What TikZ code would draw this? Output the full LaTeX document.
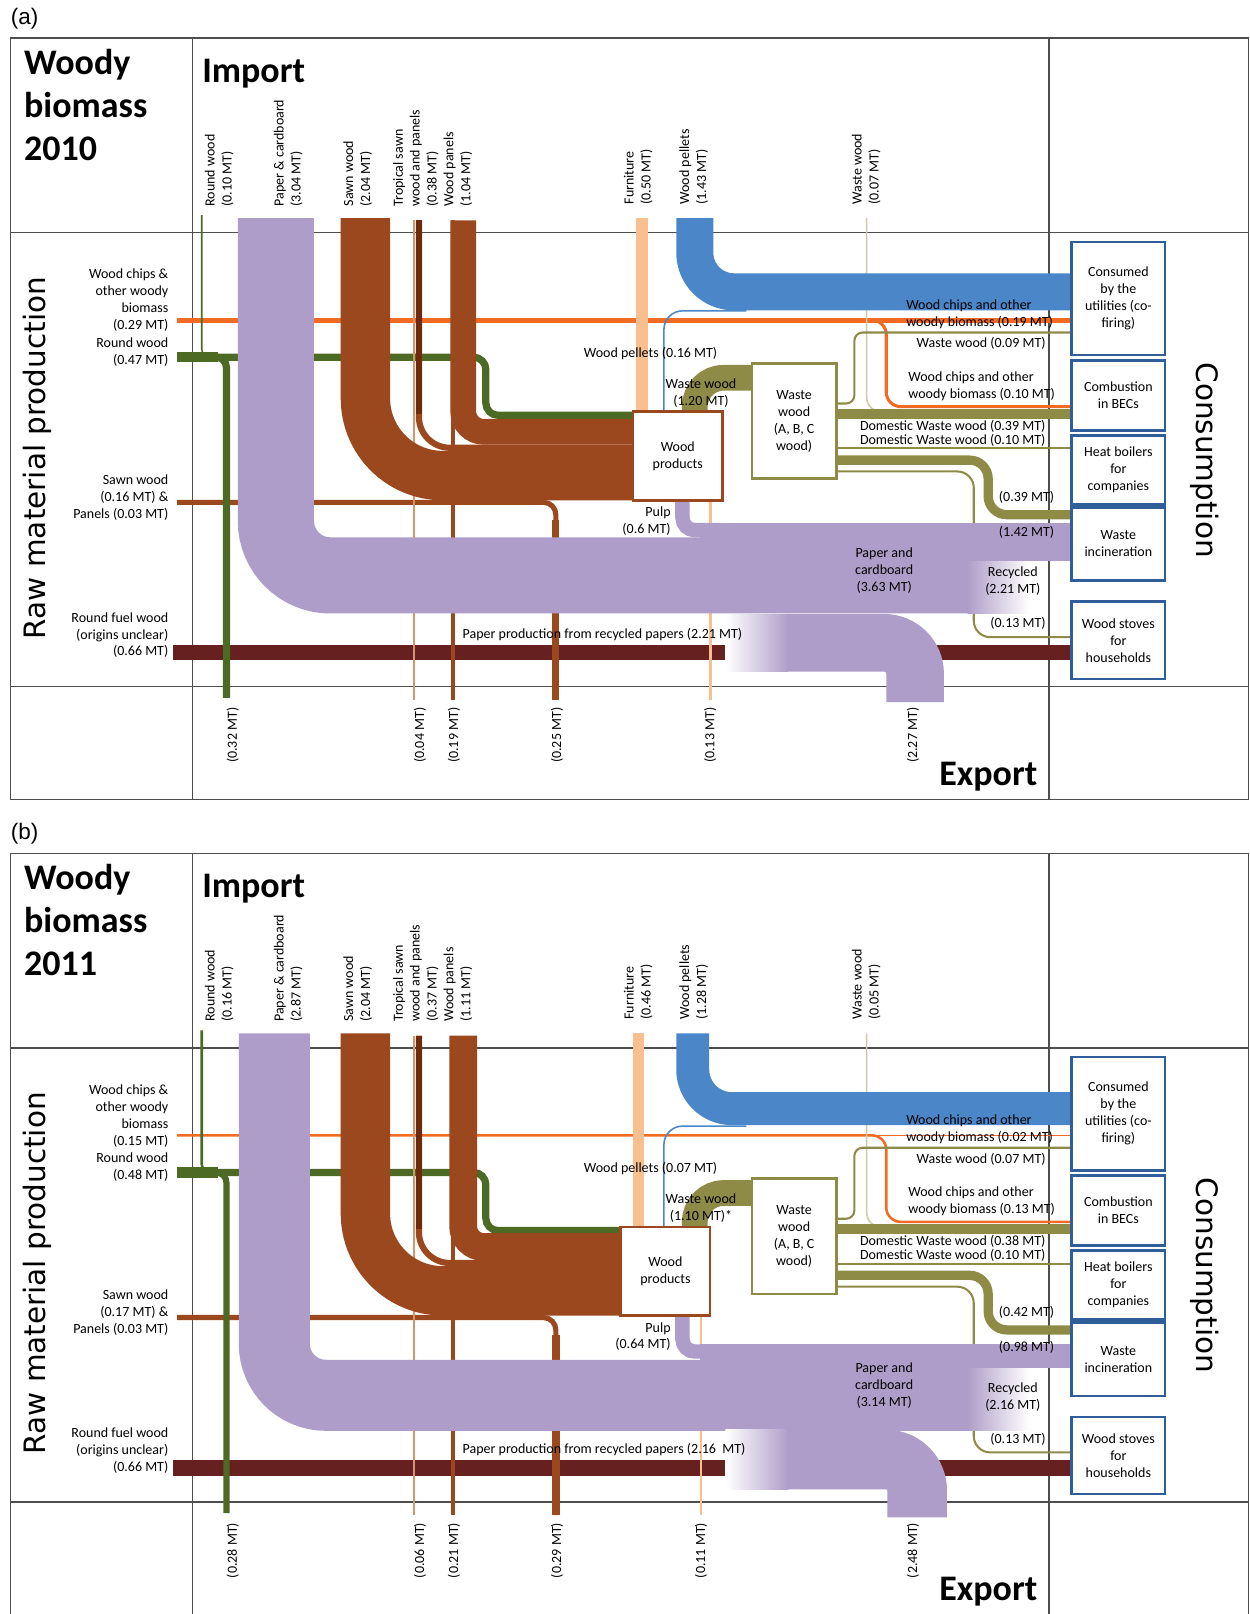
\documentclass[tikz,border=0pt]{standalone}
\usepackage{fontspec}
\setmainfont{Carlito}
\newfontfamily\headfont{DejaVu Sans}
\newfontfamily\tagfont{Liberation Sans}
\usepackage{tikz}

\definecolor{lav}{HTML}{AF9DC9}
\definecolor{brn}{HTML}{9B481F}
\definecolor{darkbrn}{HTML}{6E2A0C}
\definecolor{lightbrn}{HTML}{D4956A}
\definecolor{grn}{HTML}{4C6A23}
\definecolor{orng}{HTML}{F26B22}
\definecolor{blu}{HTML}{4A86C8}
\definecolor{peach}{HTML}{F9BF8F}
\definecolor{maroonbar}{HTML}{66201F}
\definecolor{wwcol}{HTML}{8E8B47}
\definecolor{khaki}{HTML}{CFCBA5}
\definecolor{boxblue}{HTML}{2F5E99}
\definecolor{framegray}{HTML}{4D4D4D}

\tikzset{
  flow/.style={line width=#1*0.412pt},
  rc/.style={rounded corners=#1*0.412pt},
  bw/.style={minimum width=#1*0.412pt},
  bh/.style={minimum height=#1*0.412pt},
  gridline/.style={draw=framegray, line width=0.6pt},
  lbl/.style={font=\fontsize{5.6}{6.8}\selectfont, inner sep=0pt},
  hlbl/.style={lbl, rotate=90, anchor=west, align=left},
  elbl/.style={lbl, rotate=90, anchor=east},
  cbox/.style={draw=boxblue, line width=1pt, fill=white, lbl, align=center, bw=91},
  bigtxt/.style={font=\fontsize{14.4}{17.3}\selectfont\bfseries, inner sep=0pt}
}

\newcommand{\woodypanel}{%
  \draw[gridline] (10,37) rectangle (1213,776.5);
  \draw[gridline] (10,226) -- (1213,226) (10,667) -- (1213,667)
    (187,37) -- (187,776.5) (1019,37) -- (1019,776.5);
  % raw material production
  \draw[maroonbar, flow=15] (168,634) -- (1041,634);
  \draw[orng, flow=\gOc] (172,311) -- (1041,311);
  \draw[orng, flow=\gOb, rc=14] (172,311) -- (861,311) -- (861,395) -- (1041,395);
  \draw[brn, flow=5, rc=12] (172,488) -- (540,488) -- (540,680);
  \draw[brn, flow=\gSe] (540,505) -- (540,680);
  \draw[grn, flow=10] (172,347) -- (212,347);
  \draw[grn, flow=\gGe, rc=10] (205,347) -- (220,347) -- (220,678);
  \draw[grn, flow=7, rc=12] (205,347) -- (472,347) -- (472,403.5) -- (\gWPx,403.5);
  \draw[grn, flow=\gGi, rc=8] (196,209) -- (196,347) -- (212,347);
  % export
  \draw[lightbrn, flow=\gTe] (402,214) -- (402,680);
  \draw[brn, flow=\gPe] (440,214) -- (440,680);
  \draw[peach, flow=2.5] (\gFx,486) -- (\gFx,680);
  % waste wood
  \draw[khaki, flow=1.5, rc=14] (842,212) -- (842,400) -- (880,400);
  \draw[wwcol, flow=2, rc=8] (813,392) -- (830,392) -- (830,323) -- (1041,323);
  \draw[wwcol, flow=10] (813,402) -- (1041,402);
  \draw[wwcol, flow=2] (813,435.5) -- (1041,435.5);
  \draw[wwcol, flow=9, rc=18] (813,447) -- (960,447) -- (960,500) -- (1041,500);
  \draw[wwcol, flow=2, rc=16] (813,458) -- (946,458) -- (946,619) -- (1041,619);
  % import
  \draw[blu, flow=1.5, rc=18] (725,302) -- (645,302) -- (645,400);
  \draw[blu, flow=\gBlw, rc=38] (\gBlx,212) -- (\gBlx,\gBly) -- (1041,\gBly);
  \draw[peach, flow=\gFw] (\gFix,212) -- (\gFix,400);
  \draw[brn, flow=48, rc=75] (355,212) -- (355,462) -- (\gWPx,462);
  \draw[brn, flow=6, rc=30] (407,214) -- (407,435) -- (\gWPx,435);
  \draw[darkbrn, flow=6] (407,214) -- (407,402);
  \draw[brn, flow=\gPw, rc=20] (450,214) -- (450,419.5) -- (\gWPx,419.5);
  % paper and cardboard
  \draw[lav, flow=\gPCw, rc=\gPCr] (\gPCx,212) -- (\gPCx,\gBy) -- (941,\gBy);
  \fill[lav] (680,\gIt) rectangle (1041,\gIb);
  \draw[lav, flow=14, rc=12] (663,486) -- (663,\gPy) -- (700,\gPy);
  \shade[left color=lav, right color=white] (940,\gIb) rectangle (1000,\gBb);
  \shade[left color=white, right color=lav] (705,\gEt) rectangle (766,\gEb);
  \draw[lav, flow=\gEw, rc=30] (765,\gEy) -- (\gEx,\gEy) -- (\gEx,682);
  \draw[wwcol, flow=25, rc=28] (675,400) -- (675,367) -- (731,367);
  % boxes
  \node[draw=brn, line width=1pt, fill=white, lbl, align=center, bw=87, bh=86]
    (wprod) at (\gWPc,443) {Wood\\products};
  \node[draw=wwcol, line width=1pt, fill=white, lbl, align=center, bw=82, bh=112]
    (wwood) at (771.5,409) {Waste\\wood\\(A, B, C\\wood)};
  \node[cbox, bh=110] (util) at (1086.5,290) {Consumed\\by the\\utilities (co-\\firing)};
  \node[cbox, bh=68] (becs) at (1086.5,384) {Combustion\\in BECs};
  \node[cbox, bh=67] (heat) at (1086.5,456.5) {Heat boilers\\for\\companies};
  \node[cbox, bh=71] (incin) at (1086.5,528.5) {Waste\\incineration};
  \node[cbox, bh=75] (stoves) at (1086.5,622) {Wood stoves\\for\\households};
  % headings
  \node[font=\tagfont\fontsize{9}{11}\selectfont, anchor=west, inner sep=0pt] (tag) at (10,18) {\vTag};
  \node[bigtxt, anchor=north west, align=left] (title) at (23,47) {Woody\\biomass\\\vYear};
  \node[bigtxt, anchor=base west] (imp) at (196,80) {Import};
  \node[bigtxt, anchor=base west] (exp) at (912,763) {Export};
  \node[font=\headfont\fontsize{11.8}{14}\selectfont, rotate=90] (raw) at (36,445) {Raw material production};
  \node[font=\headfont\fontsize{11.8}{14}\selectfont, rotate=-90] (cons) at (1170,447) {Consumption};
  % import labels
  \node[hlbl] (hRW) at (213,201) {Round wood\\(\vRWi\ MT)};
  \node[hlbl] (hPC) at (280,201) {Paper \& cardboard\\(\vPCi\ MT)};
  \node[hlbl] (hSW) at (347.5,201) {Sawn wood\\(\vSWi\ MT)};
  \node[hlbl] (hTS) at (404,201) {Tropical sawn\\wood and panels\\(\vTSi\ MT)};
  \node[hlbl] (hWP) at (445,201) {Wood panels\\(\vWPi\ MT)};
  \node[hlbl] (hFU) at (620,199) {Furniture\\(\vFUi\ MT)};
  \node[hlbl] (hPE) at (674,199) {Wood pellets\\(\vPEi\ MT)};
  \node[hlbl] (hWW) at (841.5,199) {Waste wood\\(\vWWi\ MT)};
  % raw material labels
  \node[lbl, anchor=east, align=right] (lWC) at (164,292) {Wood chips \&\\other woody\\biomass\\(\vWCr\ MT)};
  \node[lbl, anchor=east, align=right] (lRW) at (164,342) {Round wood\\(\vRWr\ MT)};
  \node[lbl, anchor=east, align=right] (lSW) at (164,483) {Sawn wood\\(\vSWr\ MT) \&\\Panels (0.03 MT)};
  \node[lbl, anchor=east, align=right] (lFW) at (164,617) {Round fuel wood\\(origins unclear)\\(0.66 MT)};
  % export labels
  \node[elbl] (eRW) at (226,687) {(\vRWe\ MT)};
  \node[elbl] (eTS) at (408,687) {(\vTSe\ MT)};
  \node[elbl] (eWP) at (441,687) {(\vWPe\ MT)};
  \node[elbl] (eSW) at (541,687) {(\vSWe\ MT)};
  \node[elbl] (eFU) at (\gFx,687) {(\vFUe\ MT)};
  \node[elbl] (ePC) at (887,687) {(\vPCe\ MT)};
  % flow labels
  \node[lbl] (mPel) at (632,343) {Wood pellets (\vPel\ MT)};
  \node[lbl, align=center] (mWW) at (681,381.5) {Waste wood\\(\vWWm};
  \node[lbl, anchor=east, align=right] (mPulp) at (652,506.5) {Pulp\\(\vPulp\ MT)};
  \node[lbl, anchor=west, align=left] (cWCu) at (880,305) {Wood chips and other\\woody biomass (\vWCu\ MT)};
  \node[lbl, anchor=west] (cWWu) at (890,334) {Waste wood (\vWWu\ MT)};
  \node[lbl, anchor=west, align=left] (cWCb) at (882,375) {Wood chips and other\\woody biomass (\vWCb\ MT)};
  \node[lbl, anchor=west] (cDWb) at (835,414) {Domestic Waste wood (\vDWb\ MT)};
  \node[lbl, anchor=west] (cDWh) at (835,428) {Domestic Waste wood (0.10 MT)};
  \node[lbl, anchor=west] (cWWi) at (970,483) {(\vWWinc\ MT)};
  \node[lbl, anchor=west] (cPCi) at (970,517) {(\vPCinc\ MT)};
  \node[lbl, align=center] (cPC) at (859,554) {Paper and\\cardboard\\(\vPC\ MT)};
  \node[lbl, align=center] (cRec) at (984,565) {Recycled\\(\vRec\ MT)};
  \node[lbl] (cSt) at (989,606) {(0.13 MT)};
  \node[lbl, anchor=west] (cRecP) at (449,616) {Paper production from recycled papers (\vRecP)};
}

\begin{document}
\begin{tikzpicture}[x=0.412pt, y=-0.412pt]
\path[use as bounding box, fill=white] (0,0) rectangle (1214,1568);

\begin{scope}
  \def\vTag{(a)}\def\vYear{2010}
  \def\vRWi{0.10}\def\vPCi{3.04}\def\vSWi{2.04}\def\vTSi{0.38}\def\vWPi{1.04}
  \def\vFUi{0.50}\def\vPEi{1.43}\def\vWWi{0.07}
  \def\vWCr{0.29}\def\vRWr{0.47}\def\vSWr{0.16}
  \def\vRWe{0.32}\def\vTSe{0.04}\def\vWPe{0.19}\def\vSWe{0.25}\def\vFUe{0.13}\def\vPCe{2.27}
  \def\vPel{0.16}\def\vWWm{1.20 MT)}\def\vPulp{0.6}
  \def\vWCu{0.19}\def\vWWu{0.09}\def\vWCb{0.10}\def\vDWb{0.39}
  \def\vWWinc{0.39}\def\vPCinc{1.42}\def\vPC{3.63}\def\vRec{2.21}\def\vRecP{2.21 MT}
  \def\gPCx{268}\def\gPCw{74}\def\gPCr{53}\def\gBy{559}\def\gBb{596}
  \def\gIt{508}\def\gIb{545}\def\gPy{515}
  \def\gEy{624.5}\def\gEx{889}\def\gEw{56}\def\gEt{596.5}\def\gEb{652.5}
  \def\gWPx{615}\def\gWPc{658.5}\def\gFx{690}\def\gFix{624}\def\gFw{12}
  \def\gBlx{675}\def\gBlw{36}\def\gBly{283.5}
  \def\gOc{5}\def\gOb{3}\def\gGe{7}\def\gGi{1.5}\def\gSe{7}\def\gTe{1.5}\def\gPe{4}\def\gPw{25}
  \woodypanel
\end{scope}

\begin{scope}[shift={(0,792)}]
  \def\vTag{(b)}\def\vYear{2011}
  \def\vRWi{0.16}\def\vPCi{2.87}\def\vSWi{2.04}\def\vTSi{0.37}\def\vWPi{1.11}
  \def\vFUi{0.46}\def\vPEi{1.28}\def\vWWi{0.05}
  \def\vWCr{0.15}\def\vRWr{0.48}\def\vSWr{0.17}
  \def\vRWe{0.28}\def\vTSe{0.06}\def\vWPe{0.21}\def\vSWe{0.29}\def\vFUe{0.11}\def\vPCe{2.48}
  \def\vPel{0.07}\def\vWWm{1.10 MT)*}\def\vPulp{0.64}
  \def\vWCu{0.02}\def\vWWu{0.07}\def\vWCb{0.13}\def\vDWb{0.38}
  \def\vWWinc{0.42}\def\vPCinc{0.98}\def\vPC{3.14}\def\vRec{2.16}\def\vRecP{2.16\ \ MT}
  \def\gPCx{266.5}\def\gPCw{69}\def\gPCr{50}\def\gBy{563.5}\def\gBb{598}
  \def\gIt{514}\def\gIb{537}\def\gPy{521}
  \def\gEy{626}\def\gEx{891}\def\gEw{58}\def\gEt{597}\def\gEb{655}
  \def\gWPx{603}\def\gWPc{646.5}\def\gFx{681}\def\gFix{620}\def\gFw{11}
  \def\gBlx{673}\def\gBlw{32}\def\gBly{285}
  \def\gOc{1}\def\gOb{2.5}\def\gGe{6}\def\gGi{2.5}\def\gSe{8}\def\gTe{2}\def\gPe{4.5}\def\gPw{27}
  \woodypanel
\end{scope}
\end{tikzpicture}
\end{document}
